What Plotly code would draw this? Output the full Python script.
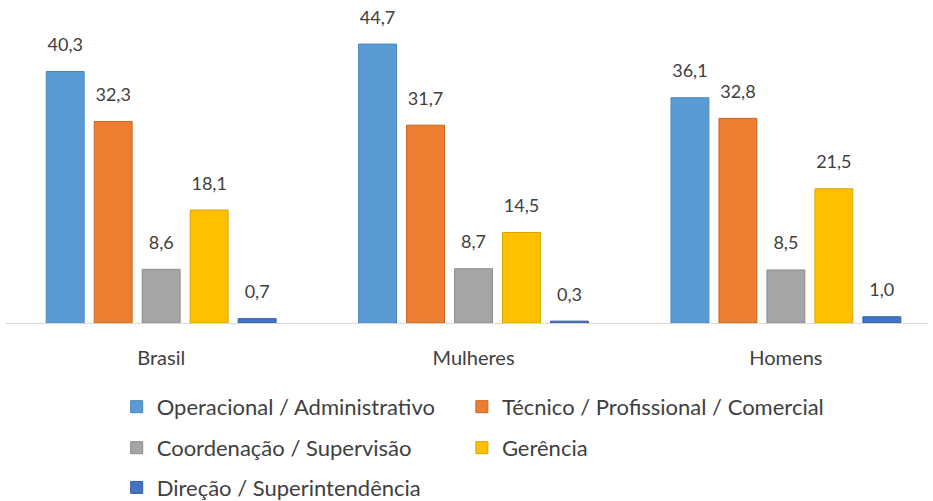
import plotly.graph_objects as go

categories = ["Brasil", "Mulheres", "Homens"]
series_names = [
    "Operacional / Administrativo",
    "Técnico / Profissional / Comercial",
    "Coordenação / Supervisão",
    "Gerência",
    "Direção / Superintendência",
]
operacional = [40.3, 44.7, 36.1]
tecnico = [32.3, 31.7, 32.8]
coordenacao = [8.6, 8.7, 8.5]
gerencia = [18.1, 14.5, 21.5]
direcao = [0.7, 0.3, 1.0]

values = [operacional, tecnico, coordenacao, gerencia, direcao]
colors = ["#5B9BD5", "#ED7D31", "#A5A5A5", "#FFC000", "#4472C4"]
edges = ["#4a86bd", "#c9651f", "#8c8c8c", "#d9a300", "#35609f"]

FONT = "Lato"
TXT = "#404040"

fig = go.Figure()
# one legend per entry so the 2-column grid can be placed freely
legend_ids = ["legend", "legend2", "legend3", "legend4", "legend5"]
for name, vals, c, e, lg in zip(series_names, values, colors, edges, legend_ids):
    fig.add_trace(go.Bar(
        x=categories, y=vals, name=name,
        marker=dict(color=c, line=dict(color=e, width=1)),
        legend=lg,
    ))
# value labels: grouped scatter text sitting above each bar, pushed up by an
# invisible marker so the gap matches the reference
for name, vals in zip(series_names, values):
    fig.add_trace(go.Scatter(
        x=categories, y=vals, mode="markers+text", showlegend=False,
        texttemplate="%{y:.1f}", textposition="top center",
        textfont=dict(size=18, color=TXT, family=FONT),
        marker=dict(size=24, color="rgba(0,0,0,0)"),
        cliponaxis=False, hoverinfo="skip",
    ))

leg = dict(xanchor="left", yanchor="middle", itemwidth=30,
           font=dict(size=22, color=TXT, family=FONT),
           bgcolor="rgba(0,0,0,0)")
col_x = [0.121, 0.495]
row_y = [-0.268, -0.399, -0.526]

fig.update_layout(
    width=933, height=501,
    margin=dict(l=5, r=5, t=10, b=178, autoexpand=False),
    plot_bgcolor="white", paper_bgcolor="white",
    barmode="group", bargap=0.232, bargroupgap=0.21,
    scattermode="group", scattergap=0.232,
    separators=",.",
    font=dict(family=FONT, color=TXT),
    legend=dict(leg, x=col_x[0], y=row_y[0]),
    legend2=dict(leg, x=col_x[1], y=row_y[0]),
    legend3=dict(leg, x=col_x[0], y=row_y[1]),
    legend4=dict(leg, x=col_x[1], y=row_y[1]),
    legend5=dict(leg, x=col_x[0], y=row_y[2]),
)
fig.update_xaxes(range=[-0.5, 2.455], showline=True, linecolor="#d9d9d9",
                 linewidth=1, ticks="outside", ticklen=17, tickcolor="rgba(0,0,0,0)",
                 tickfont=dict(size=20, color=TXT, family=FONT))
fig.update_yaxes(range=[0, 50.16], visible=False, showgrid=False)

fig.write_html("out.html", config={"displayModeBar": False},
               post_script="document.body.style.margin='0';")
